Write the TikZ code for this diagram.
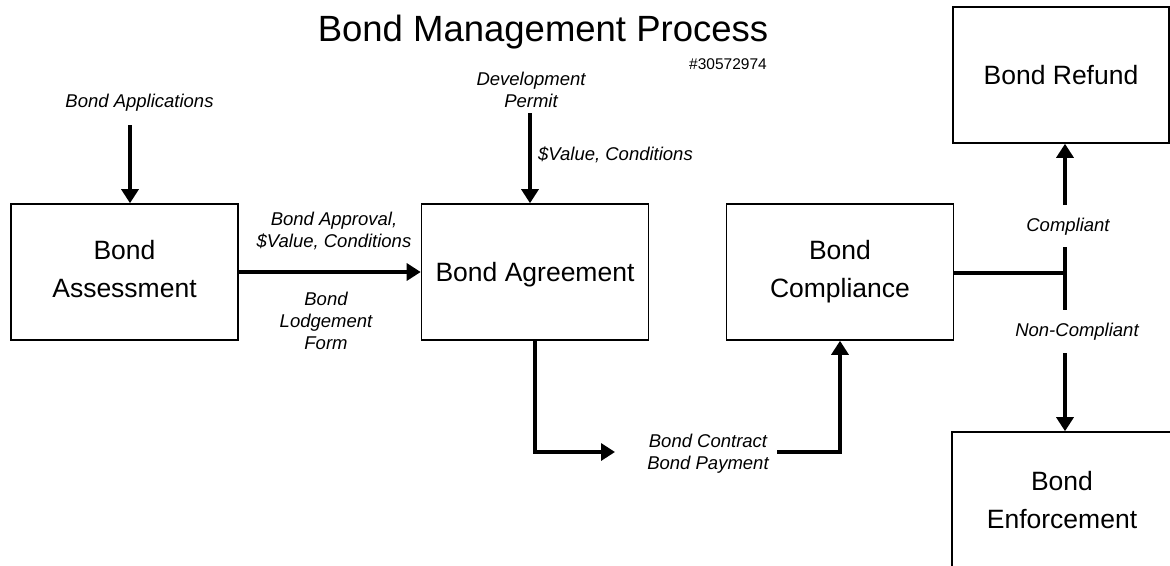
\documentclass[tikz,border=0pt]{standalone}
\usepackage{fontspec}
\setmainfont{Liberation Sans}
\usetikzlibrary{arrows.meta}
\begin{document}
\begin{tikzpicture}[x=1pt,y=-1pt,
  procbox/.style={draw=black, line width=1.6pt, minimum width=227pt, minimum height=136pt,
    align=center, inner sep=0pt, font=\fontsize{26.5}{38}\selectfont},
  lbl/.style={align=center, inner sep=0pt, font=\fontsize{18.5}{22}\selectfont\itshape},
  flow/.style={line width=3.3pt, -{Triangle[length=14pt,width=17pt]}},
  seg/.style={line width=3.3pt}]
\useasboundingbox (0,0) rectangle (1170,565);
\clip (0,0) rectangle (1170,565);
% title
\node[inner sep=0pt, font=\fontsize{36.5}{40}\selectfont] (title) at (543,32) {Bond Management Process};
\node[anchor=east, inner sep=0pt, font=\fontsize{15.5}{18}\selectfont] (docno) at (767,64) {\#30572974};
% boxes
\node[procbox, text depth=6pt] (assess) at (124.5,272) {Bond\\Assessment};
\node[procbox, text depth=0pt] (agree) at (535,272) {Bond Agreement};
\node[procbox, text depth=6pt] (comp) at (840,272) {Bond\\Compliance};
\node[procbox, minimum width=216pt] (refund) at (1061,75) {Bond Refund};
\node[procbox, minimum width=228pt, minimum height=143pt] (enforce) at (1066,503.5) {};
\node[align=center, inner sep=0pt, text depth=0pt, font=\fontsize{26.5}{38}\selectfont] (enforcetext) at (1062,500) {Bond\\Enforcement};
% labels
\node[lbl] (apps) at (139.5,103) {Bond Applications};
\node[lbl] (devp) at (531,90) {Development\\Permit};
\node[lbl, anchor=west] (valcond) at (538,155) {\$Value, Conditions};
\node[lbl] (approv) at (334,231) {Bond Approval,\\\$Value, Conditions};
\node[lbl] (lodge) at (326,321) {Bond\\Lodgement\\Form};
\node[lbl] (contract) at (708,454) {Bond Contract\\Bond Payment};
\node[lbl] (compliant) at (1068,227) {Compliant};
\node[lbl] (noncomp) at (1077,332) {Non-Compliant};
% connectors
\coordinate (appsend) at (130,125);
\draw[flow] (appsend) -- (appsend |- assess.north);
\coordinate (devend) at (530,113);
\draw[flow] (devend) -- (devend |- agree.north);
\draw[flow] (assess.east) -- (agree.east -| agree.west);
\coordinate (cturn) at (535,452);
\coordinate (cin) at (615,452);
\coordinate (cout) at (777,452);
\draw[flow] (agree.south) -- (cturn) -- (cin);
\draw[flow] (cout) -| (comp.south);
\coordinate (junc) at (1065,273);
\coordinate (upgap) at (1065,247);
\coordinate (upstart) at (1065,205);
\coordinate (downgap) at (1065,310);
\coordinate (downstart) at (1065,353);
\draw[seg] (comp.east |- junc) -- (junc);
\draw[seg] (upgap) -- (downgap);
\draw[flow] (upstart) -- (upstart |- refund.south);
\draw[flow] (downstart) -- (downstart |- enforce.north);
\end{tikzpicture}
\end{document}
